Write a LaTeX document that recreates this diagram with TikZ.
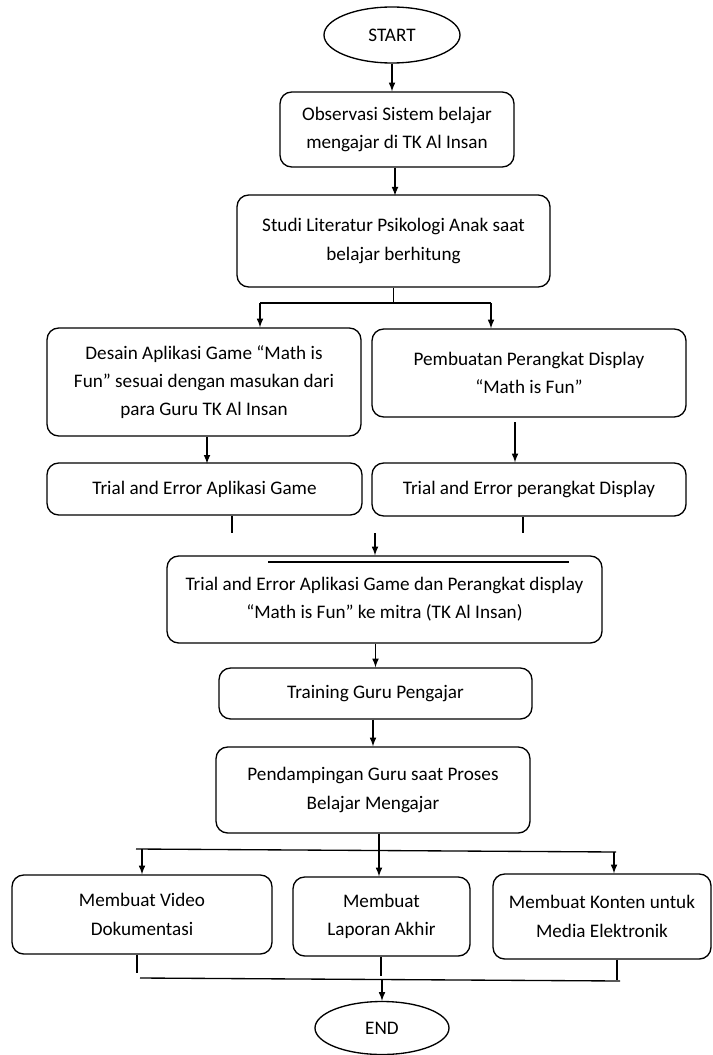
\documentclass[tikz,border=0pt]{standalone}
\usepackage{fontspec}
\setmainfont{Carlito}
\usetikzlibrary{arrows,shapes.geometric}

\tikzset{
  box/.style={draw, line width=0.8pt, rounded corners=7pt, align=center, inner sep=2pt,
    font=\fontsize{11.5}{17}\selectfont},
  term/.style={draw, line width=0.8pt, ellipse, inner sep=0pt, font=\fontsize{11.5}{13}\selectfont},
  arr/.style={-latex, line width=0.8pt},
  ln/.style={line width=0.8pt}
}

\begin{document}
\begin{tikzpicture}[x=0.6pt,y=0.6pt,yscale=-1,xscale=1]
\useasboundingbox (0,0) rectangle (712,1055);

%Shape: Ellipse [start]
\node [term, minimum width=81.6pt, minimum height=33.6pt] (start) at (392,35) {START};

%Shape: Rounded Rect [observasi]
\node [box, minimum width=140.4pt, minimum height=45pt] (obs) at (397,129.5)
  {Observasi Sistem belajar\\mengajar di TK Al Insan};
%Shape: Rounded Rect [studi]
\node [box, minimum width=187.8pt, minimum height=55.2pt] (studi) at (393.5,241)
  {Studi Literatur Psikologi Anak saat\\belajar berhitung};

%Shape: Rounded Rect [desain]
\node [box, minimum width=188.4pt, minimum height=64.8pt] (desain) at (204,382)
  {Desain Aplikasi Game “Math is\\Fun” sesuai dengan masukan dari\\para Guru TK Al Insan};
%Shape: Rounded Rect [pembuatan]
\node [box, minimum width=188.4pt, minimum height=52.8pt] (buat) at (529,373)
  {Pembuatan Perangkat Display\\“Math is Fun”};

%Shape: Rounded Rect [trial game]
\node [box, minimum width=189pt, minimum height=31.2pt] (trialA) at (204.5,489)
  {Trial and Error Aplikasi Game};
%Shape: Rounded Rect [trial display]
\node [box, minimum width=188.4pt, minimum height=31.8pt] (trialB) at (529,489.5)
  {Trial and Error perangkat Display};

%Shape: Rounded Rect [trial mitra]
\node [box, minimum width=261pt, minimum height=52.2pt] (trialC) at (384.5,599.5)
  {Trial and Error Aplikasi Game dan Perangkat display\\“Math is Fun” ke mitra (TK Al Insan)};
%Shape: Rounded Rect [training]
\node [box, minimum width=187.8pt, minimum height=30.6pt] (training) at (375.5,693.5)
  {Training Guru Pengajar};
%Shape: Rounded Rect [pendampingan]
\node [box, minimum width=188.4pt, minimum height=51.6pt] (pend) at (373,790)
  {Pendampingan Guru saat Proses\\Belajar Mengajar};

%Shape: Rounded Rect [video]
\node [box, minimum width=156pt, minimum height=47.4pt] (video) at (142,914.5)
  {Membuat Video\\Dokumentasi};
%Shape: Rounded Rect [laporan]
\node [box, minimum width=106.2pt, minimum height=47.4pt] (laporan) at (381.5,916.5)
  {Membuat\\Laporan Akhir};
%Shape: Rounded Rect [konten]
\node [box, minimum width=130.8pt, minimum height=51pt] (konten) at (602,916.5)
  {Membuat Konten untuk\\Media Elektronik};

%Shape: Ellipse [end]
\node [term, minimum width=80.4pt, minimum height=31.8pt] (end) at (382,1028)
  {END};

% Junction points
\coordinate (splitL) at (260,303);
\coordinate (splitM) at (393.5,303);
\coordinate (splitR) at (491,303);
\coordinate (buatOut) at (515,422);
\coordinate (stubA) at (232,533);
\coordinate (stubB) at (523,533);
\coordinate (joinC) at (375,533);
\coordinate (splitB) at (379,850);
\coordinate (splitBL) at (136,849);
\coordinate (splitBR) at (616,852);
\coordinate (armV) at (142,849);
\coordinate (armK) at (614,852);
\coordinate (stubV) at (137,973);
\coordinate (stubL) at (381,976);
\coordinate (stubK) at (617,980);
\coordinate (joinBL) at (140,978);
\coordinate (joinBR) at (620,981);
\coordinate (joinE) at (382,979);

%Connectors, top part
\draw [arr] (start.south) -- (start.south |- obs.north);
\draw [arr] (obs.south -| studi.north) ++(1.5,0) -- ++(0,28);
\draw [ln] (studi.south) -- (splitM);
\draw [ln] (splitL) -- (splitR);
\draw [arr] (splitL) -- (splitL |- desain.north);
\draw [arr] (splitR) -- (splitR |- buat.north);
\draw [arr] (desain.south) ++(3,0) -- ++(0,27);
\draw [arr] (buatOut) -- (buatOut |- trialB.north);

%Connectors, middle part
\draw [ln] (stubA |- trialA.south) -- (stubA);
\draw [ln] (stubB |- trialB.south) -- (stubB);
\draw [arr] (joinC) -- (joinC |- trialC.north);
\draw [ln] (268,562) -- (569,562);
\draw [arr] (training.north |- trialC.south) -- (training.north);
\draw [arr] (training.south -| pend.north) -- (pend.north);

%Connectors, bottom part
\draw [arr] (splitB |- pend.south) -- (splitB |- laporan.north);
\draw [ln] (splitBL) -- (splitBR);
\draw [arr] (armV) -- (armV |- video.north);
\draw [arr] (armK) -- (armK |- konten.north);
\draw [ln] (stubV |- video.south) -- (stubV);
\draw [ln] (stubL |- laporan.south) -- (stubL);
\draw [ln] (stubK |- konten.south) -- (stubK);
\draw [ln] (joinBL) -- (joinBR);
\draw [arr] (joinE) -- (end.north);

\end{tikzpicture}
\end{document}
